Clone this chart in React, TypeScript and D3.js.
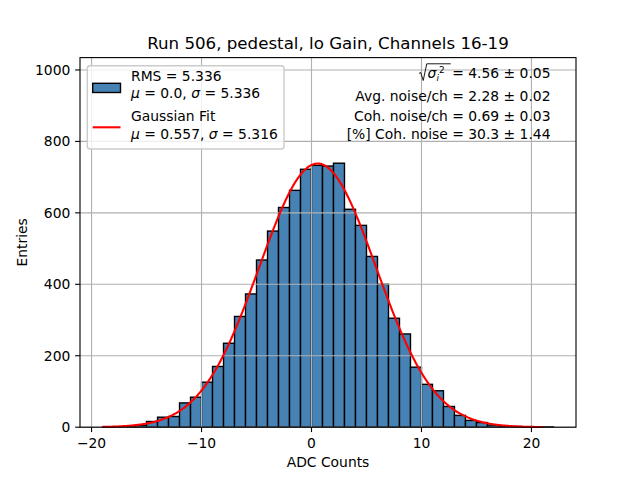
import React, { useEffect, useRef } from 'react'
import * as d3 from 'd3'

// histogram: unit-width bins, left edges starting at binStart
const binStart = -19
const binWidth = 1
const counts = [
  1, 1, 2, 5, 16, 28, 30, 68, 84, 126, 170, 235, 310, 373, 468, 549, 615, 663, 722, 733, 731, 739,
  610, 565, 478, 400, 305, 261, 168, 120, 102, 58, 33, 19, 13, 6, 4, 2, 1, 1, 1,
]

// gaussian fit parameters
const fitMu = 0.557
const fitSigma = 5.316
const fitAmp = 738
const fitRange = [-19, 21]

const xTicks = [-20, -10, 0, 10, 20]
const yTicks = [0, 200, 400, 600, 800, 1000]

const titleText = 'Run 506, pedestal, lo Gain, Channels 16-19'
const statLines = ['Avg. noise/ch = 2.28 ± 0.02', 'Coh. noise/ch = 0.69 ± 0.03', '[%] Coh. noise = 30.3 ± 1.44']
const sigmaLine = '= 4.56 ± 0.05'

const W = 640
const H = 480
const margin = { top: 57.6, right: 64, bottom: 52.8, left: 80 }
const FONT = "'DejaVu Sans', sans-serif"
const fs = 13.89
const pt = 100 / 72

export default function App() {
  const svgRef = useRef<SVGSVGElement>(null)

  useEffect(() => {
    document.body.style.margin = '0'
    if (!svgRef.current) return
    const svg = d3.select(svgRef.current)
    svg.selectAll('*').remove()

    const innerW = W - margin.left - margin.right
    const innerH = H - margin.top - margin.bottom

    const bins = counts.map((c, i) => ({ x0: binStart + i * binWidth, x1: binStart + (i + 1) * binWidth, c }))
    const dMin = bins[0].x0
    const dMax = bins[bins.length - 1].x1
    const pad = (dMax - dMin) * 0.05

    const x = d3.scaleLinear().domain([dMin - pad, dMax + pad]).range([margin.left, margin.left + innerW])
    const y = d3
      .scaleLinear()
      .domain([0, (d3.max(counts) || 0) * 1.4])
      .range([margin.top + innerH, margin.top])

    svg.attr('width', W).attr('height', H).style('font-family', FONT)
    svg.append('rect').attr('width', W).attr('height', H).attr('fill', '#fff')

    // bars
    svg
      .append('g')
      .selectAll('rect')
      .data(bins)
      .enter()
      .append('rect')
      .attr('x', (d) => x(d.x0))
      .attr('y', (d) => y(d.c))
      .attr('width', (d) => x(d.x1) - x(d.x0))
      .attr('height', (d) => y(0) - y(d.c))
      .attr('fill', '#4682b4')
      .attr('stroke', '#000')
      .attr('stroke-width', pt)

    // grid (drawn above the bars, as in the original)
    const grid = svg.append('g').attr('stroke', '#b0b0b0').attr('stroke-width', 0.8 * pt)
    xTicks.forEach((t) => {
      grid.append('line').attr('x1', x(t)).attr('x2', x(t)).attr('y1', margin.top).attr('y2', margin.top + innerH)
    })
    yTicks.forEach((t) => {
      grid.append('line').attr('x1', margin.left).attr('x2', margin.left + innerW).attr('y1', y(t)).attr('y2', y(t))
    })

    // gaussian fit
    const fitPts = d3.range(fitRange[0], fitRange[1] + 1e-9, 0.1).map((v) => ({
      v,
      f: fitAmp * Math.exp(-((v - fitMu) ** 2) / (2 * fitSigma * fitSigma)),
    }))
    const line = d3
      .line<{ v: number; f: number }>()
      .x((d) => x(d.v))
      .y((d) => y(d.f))
    svg
      .append('path')
      .datum(fitPts)
      .attr('d', line)
      .attr('fill', 'none')
      .attr('stroke', 'red')
      .attr('stroke-width', 1.5 * pt)

    // axes frame
    svg
      .append('rect')
      .attr('x', margin.left)
      .attr('y', margin.top)
      .attr('width', innerW)
      .attr('height', innerH)
      .attr('fill', 'none')
      .attr('stroke', '#000')
      .attr('stroke-width', 0.8 * pt)

    // x ticks
    const fmt = d3.format('d')
    const xa = svg.append('g')
    xTicks.forEach((t) => {
      xa.append('line')
        .attr('x1', x(t))
        .attr('x2', x(t))
        .attr('y1', margin.top + innerH)
        .attr('y2', margin.top + innerH + 4.86)
        .attr('stroke', '#000')
        .attr('stroke-width', 0.8 * pt)
      xa.append('text')
        .attr('x', x(t))
        .attr('y', margin.top + innerH + 20.5)
        .attr('text-anchor', 'middle')
        .attr('font-size', fs)
        .text(fmt(t))
    })
    // y ticks
    const ya = svg.append('g')
    yTicks.forEach((t) => {
      ya.append('line')
        .attr('x1', margin.left - 4.86)
        .attr('x2', margin.left)
        .attr('y1', y(t))
        .attr('y2', y(t))
        .attr('stroke', '#000')
        .attr('stroke-width', 0.8 * pt)
      ya.append('text')
        .attr('x', margin.left - 9.7)
        .attr('y', y(t))
        .attr('dy', '0.36em')
        .attr('text-anchor', 'end')
        .attr('font-size', fs)
        .text(fmt(t))
    })

    // labels and title
    svg
      .append('text')
      .attr('x', margin.left + innerW / 2)
      .attr('y', 467)
      .attr('text-anchor', 'middle')
      .attr('font-size', fs)
      .text('ADC Counts')
    svg
      .append('text')
      .attr('transform', `translate(27,${margin.top + innerH / 2}) rotate(-90)`)
      .attr('text-anchor', 'middle')
      .attr('font-size', fs)
      .text('Entries')
    svg
      .append('text')
      .attr('x', margin.left + innerW / 2)
      .attr('y', 49.3)
      .attr('text-anchor', 'middle')
      .attr('font-size', 16.67)
      .text(titleText)

    // legend
    const lg = svg.append('g')
    lg.append('rect')
      .attr('x', 87.3)
      .attr('y', 65.7)
      .attr('width', 196.7)
      .attr('height', 83.3)
      .attr('rx', 2.8)
      .attr('fill', 'rgba(255,255,255,0.8)')
      .attr('stroke', '#cccccc')
      .attr('stroke-width', pt)
    lg.append('rect')
      .attr('x', 92.7)
      .attr('y', 83.3)
      .attr('width', 27.8)
      .attr('height', 9.2)
      .attr('fill', '#4682b4')
      .attr('stroke', '#000')
      .attr('stroke-width', pt)
    lg.append('line')
      .attr('x1', 92.7)
      .attr('x2', 120.5)
      .attr('y1', 127.3)
      .attr('y2', 127.3)
      .attr('stroke', 'red')
      .attr('stroke-width', 1.5 * pt)
    const legendText = (yy: number, parts: [string, boolean][]) => {
      const t = lg.append('text').attr('x', 131).attr('y', yy).attr('font-size', fs)
      parts.forEach(([s, it]) => {
        t.append('tspan').attr('font-style', it ? 'italic' : 'normal').text(s)
      })
    }
    legendText(81, [['RMS = 5.336', false]])
    legendText(98, [
      ['μ', true],
      [' = 0.0, ', false],
      ['σ', true],
      [' = 5.336', false],
    ])
    legendText(121, [['Gaussian Fit', false]])
    legendText(138.5, [
      ['μ', true],
      [' = 0.557, ', false],
      ['σ', true],
      [' = 5.316', false],
    ])

    // stats text block, right aligned
    const rx = 550.5
    const st = svg.append('g').attr('font-size', fs)
    const eq = st.append('text').attr('x', rx).attr('y', 78).attr('text-anchor', 'end').text(sigmaLine)
    const len = (eq.node() as SVGTextElement).getComputedTextLength()
    const R = rx - len
    st.append('path')
      .attr('d', `M${R - 33.3},73.5 L${R - 31.5},72.5 L${R - 29},80.5 L${R - 25.5},63.8 L${R - 1.5},63.8`)
      .attr('fill', 'none')
      .attr('stroke', '#000')
      .attr('stroke-width', 0.9)
    st.append('text').attr('x', R - 24.6).attr('y', 78).attr('font-style', 'italic').text('σ')
    st.append('text').attr('x', R - 15.8).attr('y', 81).attr('font-size', 9).attr('font-style', 'italic').text('i')
    st.append('text').attr('x', R - 13.2).attr('y', 73.2).attr('font-size', 9).text('2')
    const baselines = [100.7, 121.3, 139]
    statLines.forEach((s, i) => {
      st.append('text').attr('x', rx).attr('y', baselines[i]).attr('text-anchor', 'end').text(s)
    })
  }, [])

  return <svg ref={svgRef} style={{ display: 'block' }} />
}
